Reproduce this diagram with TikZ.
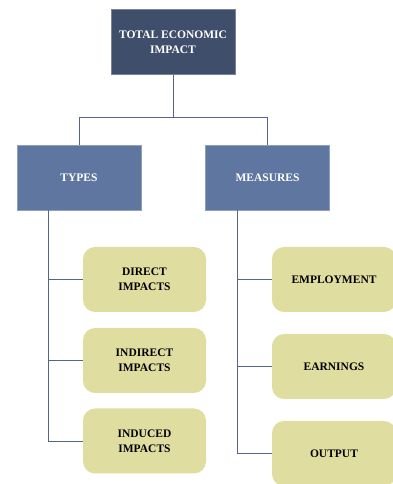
\documentclass[tikz,border=0pt]{standalone}
\usepackage{fontspec}
\setmainfont{Liberation Serif}
\definecolor{topc}{HTML}{3F4E6A}
\definecolor{midc}{HTML}{5F77A0}
\definecolor{greenc}{HTML}{E0DDA0}
\definecolor{linec}{HTML}{55658A}
\begin{document}
\begin{tikzpicture}[x=1pt,y=1pt,
  boxbase/.style={minimum height=65pt,inner sep=0pt,align=center,
    font=\fontsize{11.5}{15}\selectfont\bfseries},
  topbox/.style={boxbase,fill=topc,draw=topc!70!white,line width=0.6pt,text=white,minimum width=124pt},
  midbox/.style={boxbase,fill=midc,draw=midc!70!white,line width=0.6pt,text=white,minimum width=124pt},
  leafbox/.style={boxbase,fill=greenc,rounded corners=12pt,text=black,minimum width=123pt},
  conn/.style={draw=linec,line width=0.9pt}]
\useasboundingbox (0,0) rectangle (393,484);
\clip (0,0) rectangle (393,484);
\node[topbox] (top) at (173,442) {TOTAL ECONOMIC\\IMPACT};
\node[midbox] (types) at (79,306.5) {TYPES};
\node[midbox] (meas) at (267.5,306.5) {MEASURES};
\node[leafbox] (direct) at (144.5,204.5) {DIRECT\\IMPACTS};
\node[leafbox] (indirect) at (144.5,123.5) {INDIRECT\\IMPACTS};
\node[leafbox] (induced) at (144.5,43) {INDUCED\\IMPACTS};
\node[leafbox,minimum width=124pt] (empl) at (334,204.5) {EMPLOYMENT};
\node[leafbox,minimum width=124pt] (earn) at (334,117.5) {EARNINGS};
\node[leafbox,minimum width=124pt] (outp) at (334,30.5) {OUTPUT};
\coordinate (hub) at (173,367);
\coordinate (hl) at (79,367);
\coordinate (hr) at (267.5,367);
\coordinate (tl) at (48,274);
\coordinate (tr) at (237,274);
\draw[conn] (top.south) -- (hub);
\draw[conn] (hl) -- (hr);
\draw[conn] (hl) -- (types.north);
\draw[conn] (hr) -- (meas.north);
\draw[conn] (tl) -- (tl |- induced.west) -- (induced.west);
\draw[conn] (tl |- direct.west) -- (direct.west);
\draw[conn] (tl |- indirect.west) -- (indirect.west);
\draw[conn] (tr) -- (tr |- outp.west) -- (outp.west);
\draw[conn] (tr |- empl.west) -- (empl.west);
\draw[conn] (tr |- earn.west) -- (earn.west);
\end{tikzpicture}
\end{document}
